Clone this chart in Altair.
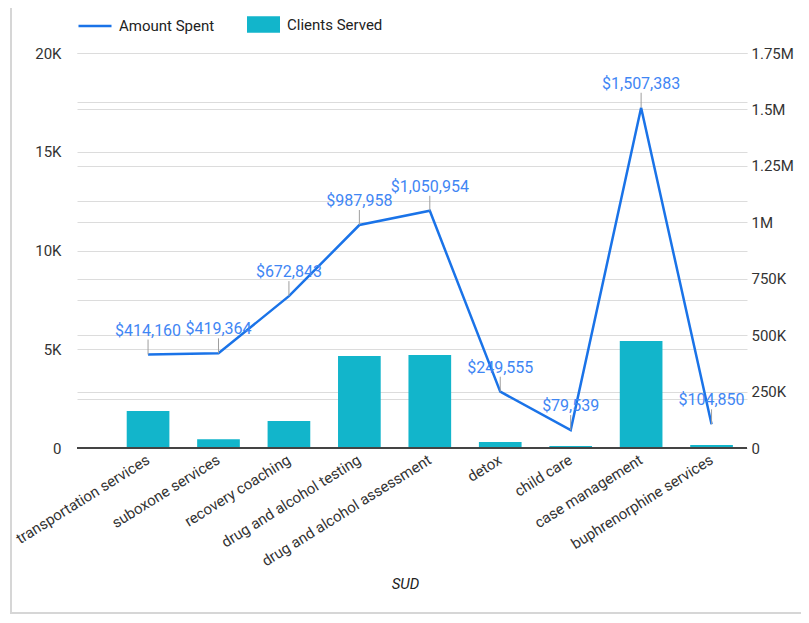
import altair as alt
import pandas as pd

categories = ["transportation services", "suboxone services", "recovery coaching",
              "drug and alcohol testing", "drug and alcohol assessment", "detox",
              "child care", "case management", "buphrenorphine services"]
clients_served = [1870, 440, 1370, 4660, 4710, 300, 100, 5420, 150]
amount_spent = [414160, 419364, 672843, 987958, 1050954, 249555, 79539, 1507383, 104850]

left_ticks = [0, 2500, 5000, 7500, 10000, 12500, 15000, 17500, 20000]
right_ticks = [0, 250000, 500000, 750000, 1000000, 1250000, 1500000, 1750000]

df = pd.DataFrame({
    "SUD": categories,
    "Clients": clients_served,
    "Amount": amount_spent,
    "bar_series": ["Clients Served"] * len(categories),
    "line_series": ["Amount Spent"] * len(categories),
})

W, H = 670, 395
FONT = "Roboto"
BAR = "#12B5CB"
LINE = "#1A73E8"
LABEL = "#3F86F4"

x_scale = alt.Scale(paddingInner=0.394, paddingOuter=0.453, align=0.779)

x_enc = alt.X(
    "SUD:N", sort=categories, scale=x_scale,
    axis=alt.Axis(title="SUD", labelAngle=-32, labelAlign="right", labelBaseline="middle",
                  labelFont=FONT, labelFontSize=15, labelColor="#333", labelLimit=400,
                  labelPadding=10, ticks=False, domain=False,
                  titleFont=FONT, titleFontStyle="italic", titleFontWeight="normal",
                  titleFontSize=15, titleColor="#222", titleX=328, titleY=140,
                  titleBaseline="alphabetic", titleAnchor="start", titleAlign="center"),
)

bars = alt.Chart(df).mark_bar(color=BAR).encode(
    x=x_enc,
    y=alt.Y("Clients:Q", scale=alt.Scale(domain=[0, 20000], nice=False),
            axis=alt.Axis(values=left_ticks, title=None, domain=False, ticks=False,
                          labelExpr="datum.value % 5000 == 0 ? (datum.value == 0 ? '0' : datum.value/1000 + 'K') : ''",
                          labelFont=FONT, labelFontSize=15, labelColor="#333", labelPadding=16,
                          grid=True, gridColor="#dcdcdc", gridWidth=1)),
    fill=alt.Fill("bar_series:N", scale=alt.Scale(domain=["Clients Served"], range=[BAR]),
                  legend=alt.Legend(title=None, orient="none", legendX=170, legendY=-45,
                                    symbolType="M-1,-0.5H1V0.5H-1Z", symbolSize=1089,
                                    symbolStrokeWidth=0, labelFont=FONT, labelFontSize=15,
                                    labelColor="#222", labelOffset=7)),
)

zero_rule = alt.Chart(df).mark_rule(color="#444", strokeWidth=1.2).encode(
    y=alt.datum(0), x=alt.value(0), x2=alt.value(W)
)

left = alt.layer(bars, zero_rule)

y_right = alt.Y("Amount:Q", scale=alt.Scale(domain=[0, 1750000], nice=False),
                axis=alt.Axis(orient="right", values=right_ticks, title=None, domain=False, ticks=False,
                              labelExpr="datum.value >= 1000000 ? datum.value/1000000 + 'M' : (datum.value == 0 ? '0' : datum.value/1000 + 'K')",
                              labelFont=FONT, labelFontSize=15, labelColor="#333", labelPadding=4,
                              grid=True, gridColor="#dcdcdc", gridWidth=1))

line = alt.Chart(df).mark_line(strokeWidth=2.5).encode(
    x=alt.X("SUD:N", sort=categories),
    y=y_right,
    stroke=alt.Stroke("line_series:N", scale=alt.Scale(domain=["Amount Spent"], range=[LINE]),
                      legend=alt.Legend(title=None, orient="none", legendX=0, legendY=-45,
                                        symbolType="stroke", symbolSize=1089, symbolStrokeWidth=2.5,
                                        labelFont=FONT, labelFontSize=15, labelColor="#222",
                                        labelOffset=6)),
)

ticks = alt.Chart(df).mark_rule(color="#9e9e9e", strokeWidth=1, y2Offset=-15).encode(
    x=alt.X("SUD:N", sort=categories),
    y=alt.Y("Amount:Q"),
    y2="Amount:Q",
)

labels = alt.Chart(df).mark_text(font=FONT, fontSize=16, color=LABEL, baseline="alphabetic",
                                 dy=-19).encode(
    x=alt.X("SUD:N", sort=categories),
    y=alt.Y("Amount:Q"),
    text=alt.Text("Amount:Q", format="$,.0f"),
)

right = alt.layer(line, ticks, labels)

frame = alt.Chart(df).mark_rect(fill=None, stroke="#d6d6d6", strokeWidth=2).encode(
    x=alt.value(-66), x2=alt.value(728), y=alt.value(-70), y2=alt.value(560)
)

chart = alt.layer(frame, left, right).resolve_scale(
    y="independent", fill="independent", stroke="independent"
).properties(
    width=W, height=H,
    autosize=alt.AutoSizeParams(type="none"),
    padding={"left": 69, "top": 45, "right": 54, "bottom": 167},
).configure_view(stroke=None)

chart.save("out.html", embed_options={"renderer": "svg", "actions": False})
